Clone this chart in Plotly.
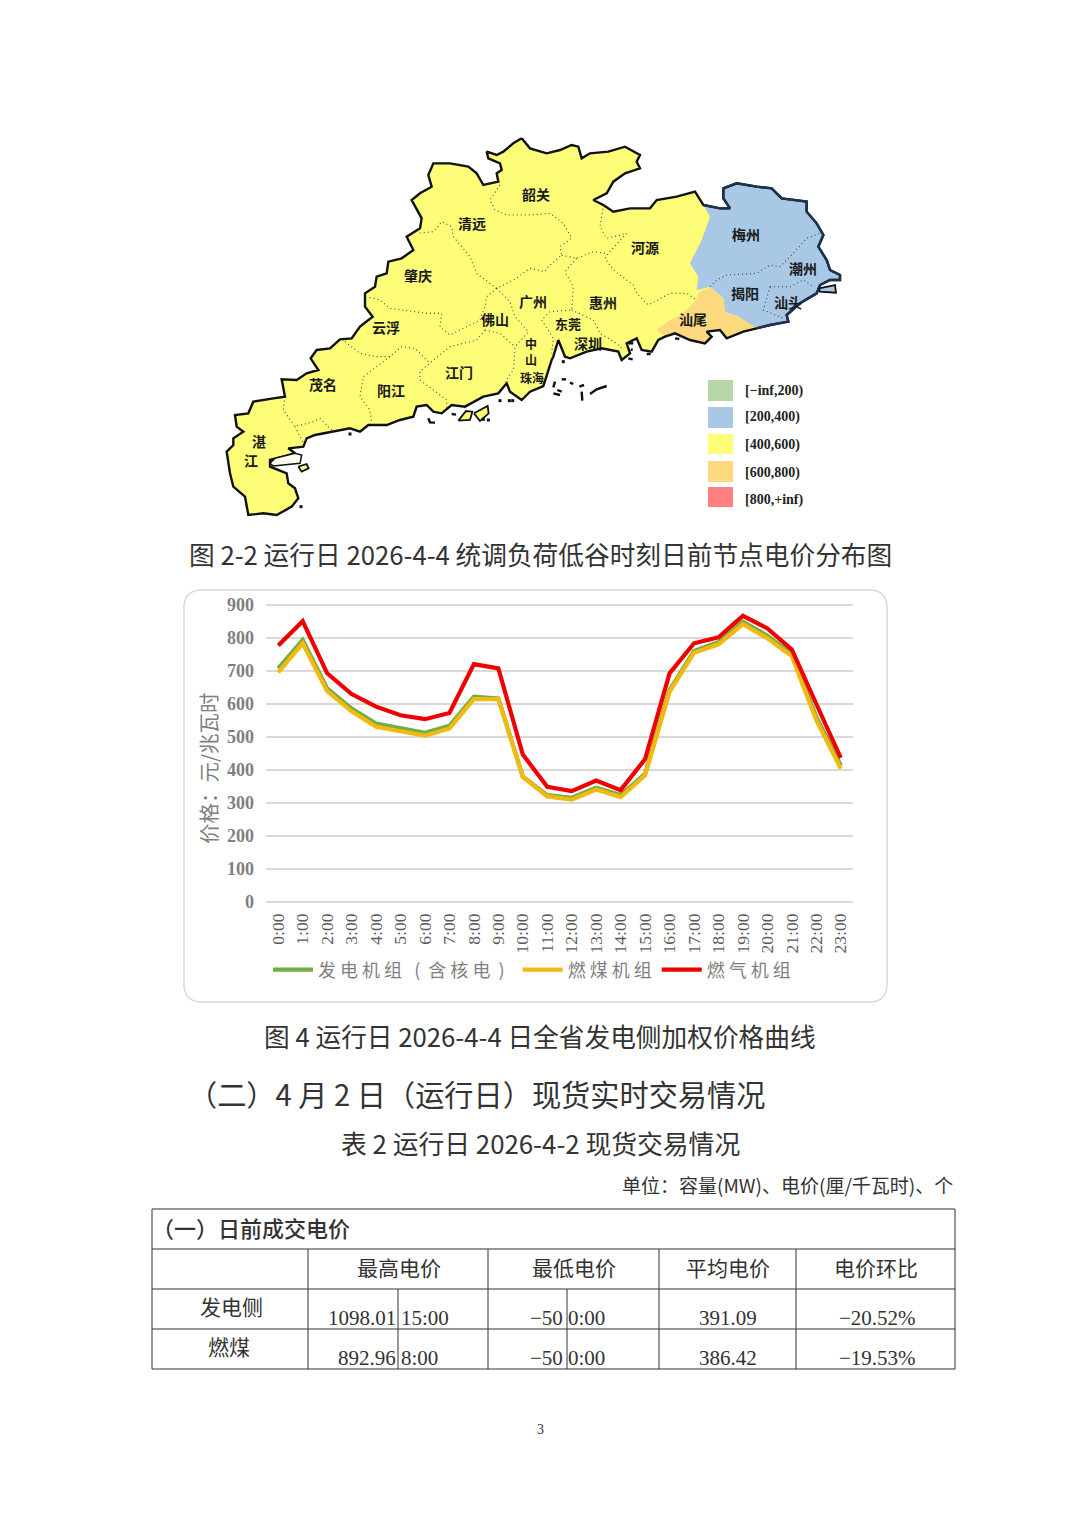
"""
Page scan: Guangdong price map, generation price curves, and the top of table 2.
Everything outside the line chart sits on a hidden full-page axis in page pixels.
"""

import plotly.graph_objects as go

PAGE_W, PAGE_H = 1080, 1528
CJK = "Noto Sans CJK SC"
SERIF = "Liberation Serif"

# ==========================================
# 1. Chart data
# ==========================================
hours = ["0:00", "1:00", "2:00", "3:00", "4:00", "5:00", "6:00", "7:00", "8:00", "9:00", "10:00", "11:00",
         "12:00", "13:00", "14:00", "15:00", "16:00", "17:00", "18:00", "19:00", "20:00", "21:00", "22:00", "23:00"]
all_units = [708, 794, 647, 586, 541, 526, 513, 534, 622, 617, 380, 324,
             316, 346, 324, 388, 642, 761, 787, 849, 807, 751, 561, 414]
coal_units = [696, 784, 639, 578, 531, 516, 504, 526, 615, 615, 379, 320,
              310, 341, 318, 384, 637, 755, 781, 842, 799, 745, 551, 404]
gas_units = [777, 851, 693, 630, 592, 566, 554, 573, 721, 708, 447, 349,
             336, 368, 339, 433, 693, 784, 802, 867, 829, 765, 600, 437]
series_names = ["发 电 机 组   (  含 核 电  )\u00a0\u00a0", "燃 煤 机 组", "燃 气 机 组"]
y_title = "价格：元/兆瓦时"

# ==========================================
# 2. Map data, traced at 3x from the page; the origin is page (220, 130)
# ==========================================
coast_west = [(905, 25), (880, 40), (850, 65), (830, 75), (800, 65), (805, 85), (840, 100), (845, 120), (830, 130),
              (835, 155), (790, 165), (770, 130), (745, 110), (690, 100), (640, 100), (625, 135), (635, 170),
              (600, 190), (575, 210), (590, 240), (605, 265), (600, 295), (560, 320), (580, 360), (545, 385),
              (505, 395), (500, 430), (470, 440), (465, 470), (435, 490), (435, 530), (458, 560), (420, 590),
              (395, 625), (360, 628), (330, 655), (290, 660), (272, 685), (295, 720), (260, 730), (230, 750),
              (185, 748), (195, 800), (160, 805), (100, 815), (85, 850), (45, 855), (50, 890), (70, 905), (40, 925),
              (40, 945), (20, 965), (30, 1030), (40, 1070), (75, 1100), (85, 1155), (130, 1150), (170, 1155),
              (215, 1130), (235, 1105), (225, 1075), (205, 1060), (200, 1030), (150, 1010), (150, 990), (225, 970),
              (205, 955), (250, 950), (260, 925), (285, 915), (340, 905), (390, 895), (420, 905), (445, 885),
              (500, 885), (540, 870), (580, 860), (590, 830), (620, 825), (640, 845), (665, 850), (695, 825),
              (735, 830), (790, 800), (835, 790), (860, 760), (870, 785), (905, 810)]
coast_south = [(930, 785), (970, 768), (995, 690), (1000, 680), (1015, 630), (1035, 680), (1050, 685), (1100, 665),
               (1145, 655), (1195, 665), (1205, 690), (1230, 670), (1220, 640), (1250, 625), (1265, 660), (1295, 665),
               (1315, 630), (1335, 620)]
coast_orange = [(1335, 620), (1365, 610), (1410, 630), (1455, 640), (1475, 620), (1460, 605), (1500, 600), (1520, 625),
                (1570, 605), (1610, 595)]
coast_blue = [(1610, 595), (1650, 585), (1705, 575), (1700, 555), (1740, 520), (1790, 490), (1800, 465), (1830, 450),
              (1860, 450), (1860, 435), (1830, 420), (1820, 390), (1795, 350), (1810, 315), (1790, 280), (1760, 245),
              (1760, 215), (1720, 210), (1685, 205), (1655, 175), (1610, 170), (1550, 160), (1510, 175), (1510, 205),
              (1530, 235), (1500, 235), (1450, 225)]
coast_north = [(1450, 225), (1425, 185), (1370, 200), (1310, 210), (1290, 235), (1230, 235), (1180, 245), (1150, 225),
               (1120, 210), (1160, 190), (1180, 155), (1215, 130), (1260, 115), (1250, 95), (1260, 75), (1215, 50),
               (1165, 65), (1110, 70), (1085, 85), (1075, 50), (1055, 45), (1020, 60), (980, 70), (930, 55), (905, 25)]
blue_edge = [(1450, 225), (1470, 260), (1445, 330), (1410, 400), (1435, 440), (1430, 480), (1470, 470), (1510, 505),
             (1515, 545), (1555, 560), (1610, 595)]
orange_edge = [(1335, 620), (1310, 600), (1350, 570), (1385, 555), (1420, 520), (1440, 485), (1470, 470)]

borders = [
    [(840, 165), (810, 210), (825, 240), (860, 255), (930, 255), (990, 250), (1030, 280), (1055, 325), (1020, 350),
     (1025, 375), (985, 410), (975, 425), (930, 415), (880, 450), (830, 475), (770, 430), (750, 380), (700, 320),
     (695, 290), (665, 275), (640, 305), (590, 310)],
    [(830, 475), (800, 500), (795, 530), (780, 570), (690, 615), (660, 590), (665, 550), (620, 550), (510, 535),
     (480, 510), (440, 500)],
    [(830, 475), (870, 515), (885, 560), (925, 605), (885, 650), (880, 720), (855, 755)],
    [(795, 600), (840, 610), (885, 650)],
    [(795, 600), (770, 630), (690, 650), (640, 690), (600, 725), (600, 750), (680, 810), (680, 840)],
    [(375, 635), (420, 670), (470, 680), (510, 680), (545, 650), (585, 655), (630, 700)],
    [(510, 680), (430, 740), (420, 800), (450, 840), (455, 880)],
    [(195, 800), (190, 840), (225, 890), (280, 875), (300, 865), (340, 905)],
    [(225, 890), (250, 940)],
    [(1150, 225), (1140, 290), (1160, 325), (1220, 310), (1165, 370), (1155, 385), (1180, 420), (1240, 465), (1250, 490),
     (1285, 525), (1350, 490), (1400, 490), (1430, 510)],
    [(1155, 370), (1120, 365), (1070, 385), (1020, 375)],
    [(1070, 385), (1035, 425), (1060, 470), (1055, 540), (990, 545), (965, 570), (1000, 625), (995, 670)],
    [(1055, 540), (1120, 570), (1140, 610), (1190, 640), (1210, 660)],
    [(1470, 470), (1490, 450), (1520, 435), (1610, 430), (1650, 405), (1680, 410), (1720, 370), (1760, 325), (1800, 310)],
    [(1650, 470), (1630, 540), (1690, 565)],
    [(1650, 470), (1710, 470), (1750, 450), (1780, 470)],
]
bay = [(150, 1000), (165, 985), (225, 970), (245, 975), (240, 1000), (160, 1008), (150, 1000)]
yellow_islands = [
    [(235, 1010), (260, 1002), (266, 1015), (245, 1025), (235, 1010)],
    [(715, 872), (738, 843), (757, 845), (750, 870), (715, 872)],
    [(762, 850), (803, 828), (806, 850), (780, 873), (762, 850)],
]
blue_island = [(1797, 475), (1845, 465), (1848, 488), (1800, 485), (1797, 475)]
rocks = [
    [(1110, 792), (1130, 778), (1160, 768)],
    [(1000, 772), (1005, 755)],
    [(1025, 748), (1038, 748)],
    [(1050, 758), (1060, 762)],
    [(1000, 790), (1020, 795)],
    [(1012, 780), (1025, 785)],
    [(1078, 770), (1092, 765)],
    [(1085, 785), (1087, 812)],
    [(625, 865), (630, 877), (645, 878)],
    [(695, 852), (708, 854)],
    [(1225, 640), (1240, 640)],
    [(1232, 658), (1238, 660)],
    [(1225, 685), (1238, 688)],
    [(1280, 672), (1292, 672)],
    [(1365, 625), (1378, 627)],
]
specks_x = [243, 390, 790, 805, 840, 868, 878, 1030]
specks_y = [1130, 912, 868, 870, 812, 812, 812, 695]

city_names = ["韶关", "清远", "河源", "梅州", "肇庆", "潮州", "揭阳", "汕头", "广州", "惠州", "云浮", "佛山",
              "东莞", "汕尾", "深圳", "中", "山", "珠海", "茂名", "江门", "阳江", "湛", "江"]
city_x = [536, 472, 645, 746, 418, 803, 745, 788, 533, 603, 386, 495, 568, 693, 588, 531, 531, 532, 323, 459, 391, 259, 251]
city_y = [196, 225, 249, 236, 277, 270, 295, 304, 303, 304, 329, 321, 326, 321, 345, 346, 362, 380, 386, 374, 392, 443, 462]
city_size = [14, 14, 14, 14, 14, 14, 14, 14, 14, 14, 14, 14, 13, 14, 14, 12, 12, 12, 14, 14, 14, 14, 14]

bin_labels = ["[−inf,200)", "[200,400)", "[400,600)", "[600,800)", "[800,+inf)"]
bin_colors = ["#b5d6a7", "#a9c8e6", "#fdfd78", "#fcd97f", "#ff8080"]
bin_top = [380, 407, 434, 461, 487]
bin_bottom = [401, 428, 454, 482, 507]
bin_text_y = [391, 417, 445, 473, 500]

# ==========================================
# 3. Table data
# ==========================================
table_title = "（一）日前成交电价"
table_head = ["最高电价", "最低电价", "平均电价", "电价环比"]
row_names = ["发电侧", "燃煤"]
max_price = ["1098.01", "892.96"]
max_time = ["15:00", "8:00"]
min_price = ["−50", "−50"]
min_time = ["0:00", "0:00"]
avg_price = ["391.09", "386.42"]
price_change = ["−20.52%", "−19.53%"]


def page(points):
    xs = [220 + p[0] / 3 for p in points]
    ys = [130 + p[1] / 3 for p in points]
    return xs, ys


fig = go.Figure()

# ==========================================
# 4. Map
# ==========================================
land = coast_west + coast_south + coast_orange + coast_blue + coast_north
blue_area = blue_edge + coast_blue[1:]
orange_area = orange_edge + blue_edge[6:] + coast_orange[::-1][1:]


def area(points, fill, line_color="rgba(0,0,0,0)", width=0):
    xs, ys = page(points)
    fig.add_trace(go.Scatter(x=xs, y=ys, xaxis="x2", yaxis="y2", mode="lines", fill="toself", fillcolor=fill,
                             line=dict(color=line_color, width=width), showlegend=False, hoverinfo="skip"))


def edge(points, color, width, dash="solid"):
    xs, ys = page(points)
    fig.add_trace(go.Scatter(x=xs, y=ys, xaxis="x2", yaxis="y2", mode="lines",
                             line=dict(color=color, width=width, dash=dash), showlegend=False, hoverinfo="skip"))


area(land + land[:1], "#fdfd78")
area(blue_area, "#a9c8e6")
area(orange_area, "#fcd97f")
for b in borders:
    edge(b, "#444444", 1.1, "1px,3px")
edge(land + land[:1], "#111111", 2.4)
edge(coast_blue, "#1c3350", 2.4)
area(bay, "#fffff0", "#111111", 1.5)
for isl in yellow_islands:
    area(isl, "#fdfd78", "#111111", 1.8)
area(blue_island, "#a9c8e6", "#111111", 1.8)
for rock in rocks:
    edge(rock, "#111111", 2.4)

sx, sy = page(list(zip(specks_x, specks_y)))
fig.add_trace(go.Scatter(x=sx, y=sy, xaxis="x2", yaxis="y2", mode="markers", showlegend=False, hoverinfo="skip",
                         marker=dict(color="#111111", size=3, symbol="square")))
fig.add_trace(go.Scatter(x=city_x, y=city_y, xaxis="x2", yaxis="y2", mode="text", text=city_names, showlegend=False,
                         hoverinfo="skip", textfont=dict(family=CJK, size=city_size, color="#1a1a1a", weight=700)))

shapes = []
for c, top, bottom in zip(bin_colors, bin_top, bin_bottom):
    shapes.append(dict(type="rect", xref="x2", yref="y2", x0=708, x1=733, y0=top, y1=bottom,
                       fillcolor=c, line=dict(width=0)))


# ==========================================
# 5. Line chart
# ==========================================
for name, vals, color in zip(series_names, [all_units, coal_units, gas_units], ["#70ad47", "#f2b90f", "#f00000"]):
    fig.add_trace(go.Scatter(x=hours, y=vals, mode="lines", name=name, line=dict(color=color, width=4.2)))

# card behind the chart
r = 18
left, right, top, bottom = 184, 887, 590, 1002
card = (f"M{left + r},{top} L{right - r},{top} Q{right},{top} {right},{top + r} L{right},{bottom - r} "
        f"Q{right},{bottom} {right - r},{bottom} L{left + r},{bottom} Q{left},{bottom} {left},{bottom - r} "
        f"L{left},{top + r} Q{left},{top} {left + r},{top} Z")
shapes.append(dict(type="path", xref="x2", yref="y2", path=card, line=dict(color="#d9d9d9", width=1.5), layer="below"))

# ==========================================
# 6. Table rules and page text
# ==========================================
rule_color = "#333333"
rows_y = [1209, 1249, 1289, 1329, 1369]
cols_x = [308, 488, 659, 796]
sub_cols_x = [398, 567]
for y in rows_y:
    shapes.append(dict(type="line", xref="x2", yref="y2", x0=152, x1=955, y0=y, y1=y, line=dict(color=rule_color, width=1)))
for x in [152, 955]:
    shapes.append(dict(type="line", xref="x2", yref="y2", x0=x, x1=x, y0=1209, y1=1369, line=dict(color=rule_color, width=1)))
for x in cols_x:
    shapes.append(dict(type="line", xref="x2", yref="y2", x0=x, x1=x, y0=1249, y1=1369, line=dict(color=rule_color, width=1)))
for x in sub_cols_x:
    shapes.append(dict(type="line", xref="x2", yref="y2", x0=x, x1=x, y0=1289, y1=1369, line=dict(color=rule_color, width=1)))

notes = []


def note(text, x, y, size, anchor="center", family=CJK, color="#333333", weight=400, angle=0):
    # Noto sits about 2px low against the scan
    if family == CJK:
        y -= 2
    notes.append(dict(text=text, x=x, y=y, xref="x2", yref="y2", xanchor=anchor, yanchor="middle", showarrow=False,
                      textangle=angle, font=dict(family=family, size=size, color=color, weight=weight)))


for lab, y in zip(bin_labels, bin_text_y):
    note(lab, 743, y, 14, "left", SERIF, "#222222", 700)

note("图 2-2 运行日 2026-4-4 统调负荷低谷时刻日前节点电价分布图", 540, 555, 25.7)
note("图 4 运行日 2026-4-4 日全省发电侧加权价格曲线", 540, 1037, 25.7)
note("（二）4 月 2 日（运行日）现货实时交易情况", 476, 1095, 29.2)
note("表 2 运行日 2026-4-2 现货交易情况", 540, 1144, 25.8)
note("单位：容量(MW)、电价(厘/千瓦时)、个", 955, 1186, 19, "right")
note(y_title, 208, 770, 20.5, color="#7f7f7f", angle=-90)
note(table_title, 150, 1229, 22, "left", weight=500)
for txt, x in zip(table_head, [399, 574, 728, 876]):
    note(txt, x, 1269, 21)
for i, y in enumerate([1308, 1348]):
    note(row_names[i], 231 if i == 0 else 229, y, 21)
for i, y in enumerate([1318, 1358]):
    note(max_price[i], 398, y, 21, "right", SERIF)
    note(max_time[i], 399, y, 21, "left", SERIF)
    note(min_price[i], 565, y, 21, "right", SERIF)
    note(min_time[i], 566, y, 21, "left", SERIF)
    note(avg_price[i], 728, y, 21, "center", SERIF)
    note(price_change[i], 877, y, 21, "center", SERIF)
note("3", 540, 1429, 14, "center", SERIF)

fig.update_layout(
    width=PAGE_W,
    height=PAGE_H,
    margin=dict(l=0, r=0, t=0, b=0, pad=0),
    paper_bgcolor="white",
    plot_bgcolor="rgba(0,0,0,0)",
    shapes=shapes,
    annotations=notes,
    showlegend=True,
    legend=dict(orientation="h", x=268 / PAGE_W, y=1 - 970 / PAGE_H, xanchor="left", yanchor="middle", itemwidth=40,
                font=dict(family=CJK, size=18, color="#7f7f7f"), bgcolor="rgba(0,0,0,0)", traceorder="normal"),
    xaxis=dict(domain=[266 / PAGE_W, 853 / PAGE_W], anchor="y", type="category", range=[-0.5, 23.5], showgrid=False,
               showline=False, ticks="", tickangle=-90, ticklabelstandoff=7,
               tickfont=dict(family=SERIF, size=17.5, color="#595959"), automargin=False),
    # range runs a little past 900, plotly drops a gridline that sits right on the edge
    yaxis=dict(domain=[1 - 902 / PAGE_H, 1 - 603.35 / PAGE_H], anchor="x", range=[0, 905], tick0=0, dtick=100,
               gridcolor="#d9d9d9", gridwidth=1.5, zeroline=True, zerolinecolor="#d9d9d9", zerolinewidth=1.5,
               showline=False, ticks="", ticklabelstandoff=11,
               tickfont=dict(family=SERIF, size=18, color="#7f7f7f", weight=700), automargin=False),
    xaxis2=dict(domain=[0, 1], anchor="y2", range=[0, PAGE_W], visible=False),
    yaxis2=dict(domain=[0, 1], anchor="x2", range=[PAGE_H, 0], visible=False),
)

fig.write_html("out.html", post_script="document.body.style.margin='0';", config=dict(displayModeBar=False))
